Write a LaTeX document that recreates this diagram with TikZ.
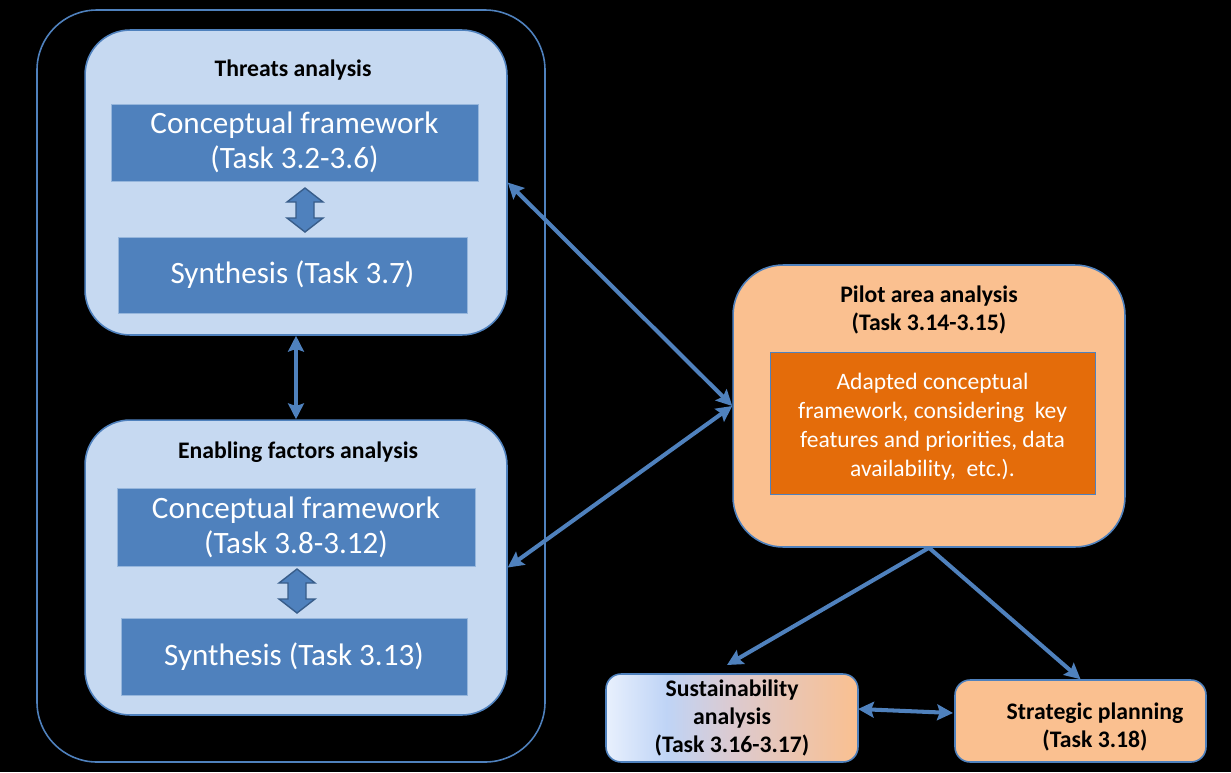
\documentclass[tikz,border=0pt]{standalone}
\usepackage{fontspec}
\setmainfont{Carlito}
\usetikzlibrary{arrows.meta}
\definecolor{steel}{HTML}{4F81BD}
\definecolor{steeldark}{HTML}{385D8A}
\definecolor{paleblue}{HTML}{C6D9F1}
\definecolor{peach}{HTML}{FAC090}
\definecolor{pumpkin}{HTML}{E46C0A}
\definecolor{frost}{HTML}{E8F0FD}
\definecolor{skyblue}{HTML}{BFD4F6}
\definecolor{lilac}{HTML}{DCCAD0}
\pgfdeclarehorizontalshading{sustshade}{100bp}{color(0bp)=(frost); color(25bp)=(frost);
  color(37bp)=(skyblue); color(50bp)=(lilac); color(75bp)=(peach); color(100bp)=(peach)}
\tikzset{
  groupbox/.style={draw=steel, line width=0.9pt, rounded corners=0.9cm, fill=paleblue},
  taskbox/.style={draw=paleblue!60!steel, line width=0.5pt, fill=steel, text=white, align=center,
    font=\fontsize{17.7}{19.8}\selectfont},
  headline/.style={font=\bfseries\fontsize{13.5}{15.9}\selectfont, align=center},
  fatarrow/.style={fill=steel, draw=steeldark, line width=0.8pt, line join=miter},
  link/.style={<->, draw=steel, line width=2.3pt},
}
\begin{document}
\begin{tikzpicture}[>={Stealth[length=9pt,width=9pt,inset=1.5pt]}, x=0.02cm, y=-0.02cm]
  \fill[black] (0,0) rectangle (1231,772);
  \useasboundingbox (0,0) rectangle (1231,772);
  % outer frame
  \draw[steel, line width=0.9pt, rounded corners=1.2cm] (37,10) rectangle (545,762);
  % threats analysis
  \node[groupbox, minimum width=8.44cm, minimum height=6.1cm] (threats) at (296,182.5) {};
  \node[headline] (threatsT) at (293,70) {Threats analysis};
  \node[taskbox, minimum width=7.34cm, minimum height=1.54cm] (cfA) at (294.5,142.5)
    {Conceptual framework\\(Task 3.2-3.6)};
  \node[taskbox, minimum width=6.98cm, minimum height=1.52cm] (synA) at (292.5,275)
    {Synthesis (Task 3.7)};
  \coordinate (fatA) at (305,210);
  % enabling factors analysis
  \node[groupbox, minimum width=8.44cm, minimum height=5.9cm] (enabling) at (296,567.5) {};
  \node[headline] (enablingT) at (298,452) {Enabling factors analysis};
  \node[taskbox, minimum width=7.16cm, minimum height=1.56cm] (cfB) at (296,527)
    {Conceptual framework\\(Task 3.8-3.12)};
  \node[taskbox, minimum width=6.92cm, minimum height=1.54cm] (synB) at (294,656.5)
    {Synthesis (Task 3.13)};
  \coordinate (fatB) at (297,591);
  % fat double arrows between framework and synthesis
  \foreach \c in {fatA,fatB}
    \draw[fatarrow] (\c) ++(0,-22) -- ++(18,14) -- ++(-9,0) -- ++(0,16) -- ++(9,0)
      -- ++(-18,14) -- ++(-18,-14) -- ++(9,0) -- ++(0,-16) -- ++(-9,0) -- cycle;
  % pilot area analysis
  \node[draw=steel, line width=0.9pt, rounded corners=1cm, fill=peach,
    minimum width=7.84cm, minimum height=5.64cm] (pilot) at (929,406) {};
  \node[headline] (pilotT) at (929,310) {Pilot area analysis\\(Task 3.14-3.15)};
  \node[draw=steel, line width=0.5pt, fill=pumpkin, minimum width=6.5cm, minimum height=2.84cm]
    (adapted) at (932.5,423) {};
  \node[text=white, align=center, font=\fontsize{13.4}{16.4}\selectfont] (adaptedT) at (932.5,426.5)
    {Adapted conceptual\\framework, considering~\ key\\features and priorities, data\\availability,~ etc.).};
  % sustainability and strategic planning
  \node[draw=steel, line width=0.9pt, rounded corners=0.3cm, shading=sustshade,
    minimum width=5.04cm, minimum height=1.76cm] (sust) at (732,718) {};
  \node[headline] (sustT) at (732,718) {Sustainability\\analysis\\(Task 3.16-3.17)};
  \node[draw=steel, line width=0.9pt, rounded corners=0.3cm, fill=peach,
    minimum width=5.02cm, minimum height=1.64cm] (strat) at (1080.5,721) {};
  \node[headline] (stratT) at (1095,727) {Strategic planning\\(Task 3.18)};
  % connectors
  \coordinate (sustTop) at (727,665);
  \coordinate (sustRight) at (858,709);
  \coordinate (stratLeft) at (953,713);
  \draw[link] (threats.south) -- (enabling.north);
  \draw[link] (threats.east) -- (pilot.west);
  \draw[link] (pilot.west) -- (enabling.east);
  \draw[link, ->] (pilot.south) -- (sustTop);
  \draw[link, ->] (pilot.south) -- (strat.north);
  \draw[link] (sustRight) -- (stratLeft);
\end{tikzpicture}
\end{document}
